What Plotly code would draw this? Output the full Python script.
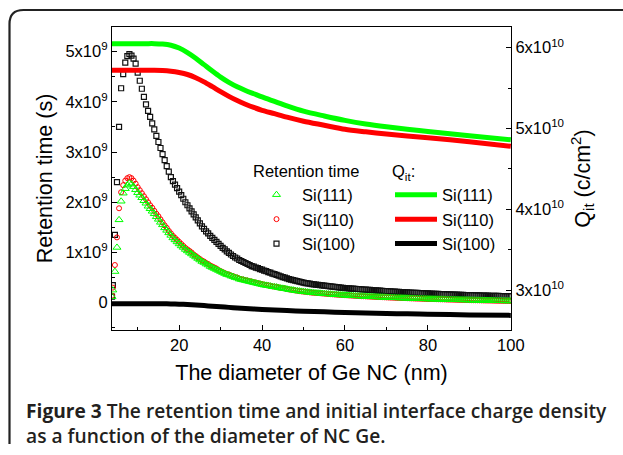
import plotly.graph_objects as go

# ---------------- data ----------------
diameter_nm = [
    3.8,
    4.0, 4.5, 5.0, 5.5, 6.0, 6.5, 7.0, 7.5, 8.0, 8.5,
    9.0, 9.5, 10.0, 10.5, 11.0, 11.5, 12.0, 12.5, 13.0, 13.5,
    14.0, 14.5, 15.0, 15.5, 16.0, 16.5, 17.0, 17.5, 18.0, 18.5,
    19.0, 19.5, 20.0, 20.5, 21.0, 21.5, 22.0, 22.5, 23.0, 23.5,
    24.0, 24.5, 25.0, 25.5, 26.0, 26.5, 27.0, 27.5, 28.0, 28.5,
    29.0, 29.5, 30.0, 30.5, 31.0, 31.5, 32.0, 32.5, 33.0, 33.5,
    34.0, 34.5, 35.0, 35.5, 36.0, 36.5, 37.0, 37.5, 38.0, 38.5,
    39.0, 39.5, 40.0, 40.5, 41.0, 41.5, 42.0, 42.5, 43.0, 43.5,
    44.0, 44.5, 45.0, 45.5, 46.0, 46.5, 47.0, 47.5, 48.0, 48.5,
    49.0, 49.5, 50.0, 50.5, 51.0, 51.5, 52.0, 52.5, 53.0, 53.5,
    54.0, 54.5, 55.0, 55.5, 56.0, 56.5, 57.0, 57.5, 58.0, 58.5,
    59.0, 59.5, 60.0, 60.5, 61.0, 61.5, 62.0, 62.5, 63.0, 63.5,
    64.0, 64.5, 65.0, 65.5, 66.0, 66.5, 67.0, 67.5, 68.0, 68.5,
    69.0, 69.5, 70.0, 70.5, 71.0, 71.5, 72.0, 72.5, 73.0, 73.5,
    74.0, 74.5, 75.0, 75.5, 76.0, 76.5, 77.0, 77.5, 78.0, 78.5,
    79.0, 79.5, 80.0, 80.5, 81.0, 81.5, 82.0, 82.5, 83.0, 83.5,
    84.0, 84.5, 85.0, 85.5, 86.0, 86.5, 87.0, 87.5, 88.0, 88.5,
    89.0, 89.5, 90.0, 90.5, 91.0, 91.5, 92.0, 92.5, 93.0, 93.5,
    94.0, 94.5, 95.0, 95.5, 96.0, 96.5, 97.0, 97.5, 98.0, 98.5,
    99.0, 99.5, 100.0,
]

# retention time, in units of 1e9 s
retention_si100 = [
    0.12,
    0.35, 1.35, 2.40, 3.50, 4.27, 4.55, 4.78, 4.91, 4.95, 4.92,
    4.86, 4.76, 4.58, 4.42, 4.26, 4.10, 3.95, 3.82, 3.70, 3.57,
    3.45, 3.32, 3.20, 3.08, 2.96, 2.84, 2.72, 2.61, 2.50, 2.42,
    2.35, 2.28, 2.21, 2.14, 2.07, 2.00, 1.94, 1.88, 1.82, 1.76,
    1.70, 1.64, 1.58, 1.52, 1.47, 1.42, 1.38, 1.33, 1.29, 1.25,
    1.21, 1.17, 1.13, 1.09, 1.06, 1.02, 0.99, 0.96, 0.93, 0.90,
    0.88, 0.85, 0.83, 0.81, 0.79, 0.77, 0.75, 0.73, 0.72, 0.70,
    0.69, 0.67, 0.66, 0.64, 0.63, 0.61, 0.60, 0.58, 0.57, 0.555,
    0.54, 0.525, 0.51, 0.50, 0.485, 0.47, 0.46, 0.45, 0.44, 0.43,
    0.42, 0.41, 0.40, 0.39, 0.385, 0.38, 0.37, 0.365, 0.36, 0.355,
    0.35, 0.345, 0.34, 0.335, 0.33, 0.325, 0.32, 0.315, 0.31, 0.305,
    0.30, 0.295, 0.29, 0.287, 0.284, 0.281, 0.278, 0.275, 0.272, 0.269,
    0.266, 0.263, 0.260, 0.257, 0.254, 0.251, 0.248, 0.245, 0.242, 0.239,
    0.236, 0.233, 0.230, 0.228, 0.225, 0.223, 0.220, 0.218, 0.215, 0.213,
    0.210, 0.208, 0.205, 0.203, 0.200, 0.198, 0.196, 0.194, 0.192, 0.190,
    0.188, 0.186, 0.184, 0.182, 0.180, 0.178, 0.176, 0.174, 0.172, 0.171,
    0.169, 0.167, 0.166, 0.164, 0.162, 0.161, 0.159, 0.158, 0.156, 0.155,
    0.153, 0.152, 0.150, 0.149, 0.148, 0.146, 0.145, 0.144, 0.143, 0.142,
    0.140, 0.139, 0.138, 0.137, 0.136, 0.135, 0.134, 0.133, 0.132, 0.131,
    0.130, 0.129, 0.128,
]

retention_si111 = [
    0.12,
    0.25, 0.62, 1.10, 1.65, 2.02, 2.18, 2.27, 2.34, 2.38, 2.36,
    2.31, 2.25, 2.19, 2.14, 2.09, 2.03, 1.98, 1.92, 1.87, 1.82,
    1.77, 1.71, 1.66, 1.60, 1.55, 1.49, 1.44, 1.39, 1.34, 1.29,
    1.25, 1.21, 1.17, 1.13, 1.10, 1.06, 1.03, 1.00, 0.97, 0.94,
    0.91, 0.88, 0.85, 0.82, 0.80, 0.77, 0.75, 0.72, 0.70, 0.68,
    0.66, 0.64, 0.62, 0.60, 0.58, 0.56, 0.55, 0.53, 0.52, 0.50,
    0.49, 0.47, 0.46, 0.45, 0.44, 0.43, 0.42, 0.41, 0.40, 0.39,
    0.38, 0.37, 0.36, 0.35, 0.345, 0.34, 0.33, 0.32, 0.315, 0.31,
    0.30, 0.29, 0.285, 0.28, 0.27, 0.26, 0.255, 0.25, 0.24, 0.235,
    0.23, 0.225, 0.22, 0.215, 0.21, 0.205, 0.20, 0.197, 0.194, 0.19,
    0.187, 0.183, 0.18, 0.177, 0.173, 0.17, 0.167, 0.163, 0.16, 0.157,
    0.154, 0.151, 0.148, 0.146, 0.143, 0.141, 0.139, 0.136, 0.134, 0.132,
    0.129, 0.127, 0.125, 0.123, 0.121, 0.119, 0.117, 0.115, 0.113, 0.111,
    0.109, 0.107, 0.105, 0.103, 0.101, 0.100, 0.098, 0.096, 0.095, 0.093,
    0.091, 0.090, 0.088, 0.087, 0.085, 0.084, 0.082, 0.081, 0.080, 0.078,
    0.077, 0.075, 0.074, 0.073, 0.072, 0.070, 0.069, 0.068, 0.067, 0.066,
    0.065, 0.063, 0.062, 0.061, 0.060, 0.059, 0.058, 0.057, 0.056, 0.055,
    0.054, 0.053, 0.051, 0.050, 0.049, 0.048, 0.047, 0.046, 0.045, 0.044,
    0.043, 0.042, 0.042, 0.041, 0.040, 0.039, 0.038, 0.038, 0.037, 0.036,
    0.035, 0.035, 0.034,
]

retention_si110 = [
    0.14,
    0.30, 0.75, 1.30, 1.88, 2.20, 2.34, 2.43, 2.48, 2.50, 2.48,
    2.43, 2.37, 2.30, 2.24, 2.18, 2.12, 2.06, 2.00, 1.94, 1.89,
    1.83, 1.77, 1.72, 1.66, 1.60, 1.54, 1.49, 1.43, 1.38, 1.33,
    1.29, 1.25, 1.21, 1.17, 1.13, 1.09, 1.06, 1.03, 1.00, 0.96,
    0.93, 0.90, 0.87, 0.84, 0.82, 0.79, 0.77, 0.74, 0.72, 0.70,
    0.68, 0.65, 0.63, 0.61, 0.59, 0.57, 0.56, 0.54, 0.53, 0.51,
    0.50, 0.48, 0.47, 0.46, 0.45, 0.44, 0.43, 0.42, 0.41, 0.40,
    0.39, 0.38, 0.37, 0.36, 0.35, 0.345, 0.335, 0.325, 0.32, 0.315,
    0.305, 0.295, 0.29, 0.284, 0.274, 0.264, 0.258, 0.253, 0.243, 0.238,
    0.23, 0.225, 0.22, 0.215, 0.21, 0.205, 0.20, 0.197, 0.194, 0.19,
    0.187, 0.183, 0.18, 0.177, 0.173, 0.17, 0.167, 0.163, 0.16, 0.157,
    0.154, 0.151, 0.148, 0.146, 0.143, 0.141, 0.139, 0.136, 0.134, 0.132,
    0.129, 0.127, 0.125, 0.123, 0.121, 0.119, 0.117, 0.115, 0.113, 0.111,
    0.109, 0.107, 0.105, 0.103, 0.101, 0.100, 0.098, 0.096, 0.095, 0.093,
    0.091, 0.090, 0.088, 0.087, 0.085, 0.084, 0.082, 0.081, 0.080, 0.078,
    0.077, 0.075, 0.074, 0.073, 0.072, 0.070, 0.069, 0.068, 0.067, 0.066,
    0.065, 0.063, 0.062, 0.061, 0.060, 0.059, 0.058, 0.057, 0.056, 0.055,
    0.054, 0.053, 0.051, 0.050, 0.049, 0.048, 0.047, 0.046, 0.045, 0.044,
    0.043, 0.042, 0.042, 0.041, 0.040, 0.039, 0.038, 0.038, 0.037, 0.036,
    0.035, 0.035, 0.034,
]

# interface charge density Q_it, in units of 1e10 c/cm^2
qit_diameter = [3.8, 6, 8, 10, 12, 14, 16, 18, 20, 22, 24, 26, 28, 30, 32, 34,
                36, 38, 40, 43, 46, 50, 55, 60, 65, 70, 75, 80, 90, 100]
qit_si111 = [6.05, 6.05, 6.05, 6.05, 6.05, 6.05, 6.045, 6.03, 5.995, 5.94, 5.87,
             5.79, 5.71, 5.635, 5.57, 5.515, 5.47, 5.43, 5.39, 5.335, 5.28,
             5.215, 5.155, 5.10, 5.055, 5.02, 4.99, 4.963, 4.91, 4.86]
qit_si110 = [5.72, 5.72, 5.72, 5.72, 5.72, 5.72, 5.717, 5.708, 5.692, 5.668, 5.628,
             5.577, 5.517, 5.455, 5.397, 5.345, 5.30, 5.26, 5.225, 5.183, 5.14,
             5.09, 5.04, 4.99, 4.958, 4.93, 4.906, 4.885, 4.835, 4.78]
qit_si100 = [2.83, 2.83, 2.83, 2.83, 2.83, 2.83, 2.83, 2.828, 2.825, 2.82, 2.814,
             2.807, 2.80, 2.792, 2.785, 2.778, 2.772, 2.766, 2.76, 2.752, 2.745,
             2.738, 2.73, 2.722, 2.716, 2.71, 2.705, 2.70, 2.692, 2.686]

left_tickvals = [0, 1, 2, 3, 4, 5]
left_ticktext = ["0", "1x10<sup>9</sup>", "2x10<sup>9</sup>", "3x10<sup>9</sup>",
                 "4x10<sup>9</sup>", "5x10<sup>9</sup>"]
right_tickvals = [3, 4, 5, 6]
right_ticktext = ["3x10<sup>10</sup>", "4x10<sup>10</sup>", "5x10<sup>10</sup>",
                  "6x10<sup>10</sup>"]

GREEN = "#00ff00"
RED = "#ff0000"
BLACK = "#000000"
FONT = "Liberation Sans, Arial, sans-serif"

fig = go.Figure()

# Q_it lines (right axis)
for name, vals, col, rank in [("Si(100)", qit_si100, BLACK, 3),
                              ("Si(110)", qit_si110, RED, 2),
                              ("Si(111)", qit_si111, GREEN, 1)]:
    fig.add_trace(go.Scatter(
        x=qit_diameter, y=vals, name=name, mode="lines", yaxis="y2",
        line=dict(color=col, width=5, shape="spline", smoothing=0.8),
        legend="legend2", legendrank=rank))

# retention time markers (left axis)
for name, vals, col, sym, size, lw, rank in [
        ("Si(100)", retention_si100, "#111111", "square-open", 5, 1.2, 3),
        ("Si(110)", retention_si110, RED, "circle-open", 5, 1, 2),
        ("Si(111)", retention_si111, GREEN, "triangle-up-open", 7, 1, 1)]:
    fig.add_trace(go.Scatter(
        x=diameter_nm, y=vals, name=name, mode="markers",
        marker=dict(symbol=sym, size=size, color=col, line=dict(width=lw, color=col)),
        legend="legend", legendrank=rank))

PW, PH = 399.0, 303.0  # plot area in px
def px_x(px):
    return (px - 112) / PW
def px_y(py):
    return (330 - py) / PH

fig.update_layout(
    width=623, height=455,
    margin=dict(l=112, r=112, t=27, b=125),
    paper_bgcolor="white", plot_bgcolor="white",
    font=dict(family=FONT, size=16.5, color="black"),
    xaxis=dict(
        range=[3.8, 100.05], tickmode="linear", tick0=0, dtick=20,
        ticks="inside", ticklen=5, tickwidth=1, tickcolor="black",
        showline=True, linecolor="black", linewidth=1.2, mirror=True,
        showgrid=False, zeroline=False,
        minor=dict(ticks="inside", ticklen=3, dtick=10, tick0=0, tickcolor="black"),
        title=dict(text="The diameter of Ge NC (nm)", font=dict(size=21.5), standoff=12),
        tickfont=dict(size=16.5),
    ),
    yaxis=dict(
        range=[-0.544, 5.49], tickvals=left_tickvals, ticktext=left_ticktext,
        ticks="inside", ticklen=5, tickcolor="black",
        showline=True, linecolor="black", linewidth=1.2,
        showgrid=False, zeroline=False,
        minor=dict(ticks="inside", ticklen=3, tickvals=[-0.5, 0.5, 1.5, 2.5, 3.5, 4.5],
                   tickcolor="black"),
        title=dict(text="Retention time (s)", font=dict(size=21.5), standoff=6),
        tickfont=dict(size=16.5),
    ),
    yaxis2=dict(
        range=[2.505, 6.256], overlaying="y", side="right",
        tickvals=right_tickvals, ticktext=right_ticktext,
        ticks="inside", ticklen=5, tickcolor="black",
        showline=True, linecolor="black", linewidth=1.2,
        showgrid=False, zeroline=False,
        minor=dict(ticks="inside", ticklen=3, tickvals=[3.5, 4.5, 5.5], tickcolor="black"),
        title=dict(text="Q<sub>it</sub> (c/cm<sup>2</sup>)", font=dict(size=21.5), standoff=11),
        tickfont=dict(size=16.5),
    ),
    legend=dict(
        x=px_x(251), y=px_y(156), xanchor="left", yanchor="top",
        bgcolor="rgba(0,0,0,0)", borderwidth=0, itemwidth=41,
        font=dict(size=16.5), traceorder="normal",
        title=dict(text="Retention time", font=dict(size=16.5)),
    ),
    legend2=dict(
        x=px_x(390), y=px_y(156), xanchor="left", yanchor="top",
        bgcolor="rgba(0,0,0,0)", borderwidth=0, itemwidth=42,
        font=dict(size=16.5), traceorder="normal",
        title=dict(text="Q<sub>it</sub>:", font=dict(size=16.5)),
    ),
    showlegend=True,
)

# caption (two lines in one text block)
CAP_FONT = "Open Sans, Noto Sans, sans-serif"
fig.add_annotation(
    xref="paper", yref="paper", x=px_x(24), y=px_y(423), xanchor="left", yanchor="middle",
    align="left",
    text=("<b>Figure 3</b> The retention time and initial interface charge density"
          "<br>as a function of the diameter of NC Ge."),
    showarrow=False, font=dict(family=CAP_FONT, size=19.2, color="#231f20", weight=600))

# rounded frame around figure
x0, x1 = px_x(9.5), px_x(640)
y0, y1 = px_y(10), px_y(458)
rx, ry = 14 / PW, 14 / PH
path = (f"M {x0},{y1 + ry} L {x0},{y0 - ry} Q {x0},{y0} {x0 + rx},{y0} "
        f"L {x1},{y0}")
fig.add_shape(type="path", xref="paper", yref="paper", path=path,
              line=dict(color="#222222", width=2.2), layer="above")

fig.write_html("out.html")
